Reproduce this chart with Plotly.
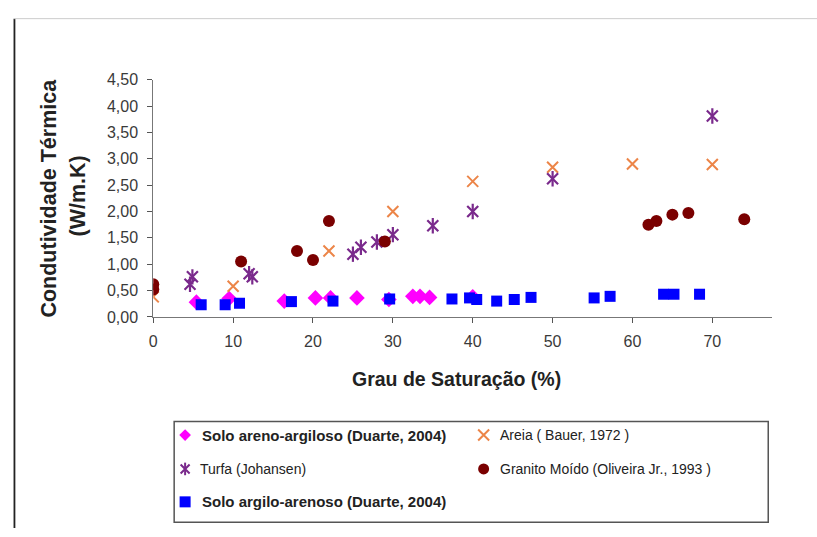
import plotly.graph_objects as go

# Thermal conductivity vs. degree of saturation
W, H = 817, 537

areno_x = [5.4, 9.5, 16.4, 20.3, 22.2, 25.5, 29.5, 32.5, 33.4, 34.6, 40]
areno_y = [0.28, 0.35, 0.30, 0.36, 0.36, 0.36, 0.33, 0.39, 0.39, 0.37, 0.38]

areia_x = [0, 10, 22, 30, 40, 50, 60, 70]
areia_y = [0.38, 0.58, 1.25, 2.00, 2.57, 2.84, 2.90, 2.89]

turfa_x = [4.6, 4.9, 12, 12.4, 25, 26, 28, 30, 35, 40, 50, 70]
turfa_y = [0.62, 0.76, 0.82, 0.76, 1.19, 1.32, 1.42, 1.56, 1.73, 2.00, 2.62, 3.81]

granito_x = [0, 0, 11, 18, 20, 22, 29, 62, 63, 65, 67, 74]
granito_y = [0.62, 0.52, 1.05, 1.25, 1.08, 1.82, 1.43, 1.75, 1.82, 1.94, 1.97, 1.85]

argilo_x = [6, 9, 10.8, 17.3, 22.5, 29.6, 37.4, 39.6, 40.5, 43, 45.2, 47.3, 55.2, 57.2, 63.9, 65.2, 68.4]
argilo_y = [0.23, 0.23, 0.26, 0.29, 0.30, 0.34, 0.34, 0.36, 0.33, 0.30, 0.33, 0.37, 0.36, 0.39, 0.43, 0.43, 0.43]

x_ticks = [0, 10, 20, 30, 40, 50, 60, 70]

series_names = [
    "Solo areno-argiloso (Duarte, 2004)",
    "Areia ( Bauer, 1972 )",
    "Turfa (Johansen)",
    "Granito Moído (Oliveira Jr., 1993 )",
    "Solo argilo-arenoso (Duarte, 2004)",
]

C_ARENO = "#ff00ff"
C_AREIA = "#ec8548"
C_TURFA = "#7a2a8c"
C_GRANITO = "#7a0000"
C_ARGILO = "#0000ff"

FONT = "Liberation Sans, Arial, sans-serif"

# plot area in pixels
PL, PR, PT, PB = 150, 772, 74, 319


def px(x):
    return x / W


def py(y):
    return 1 - y / H


def open_marker(symbol, size, color, width):
    return dict(symbol=symbol, size=size, color=color, line=dict(color=color, width=width))


fig = go.Figure()

fig.add_trace(go.Scatter(x=areno_x, y=areno_y, mode="markers", name=series_names[0],
                         marker=dict(symbol="diamond", size=12, color=C_ARENO)))
fig.add_trace(go.Scatter(x=areia_x, y=areia_y, mode="markers", name=series_names[1],
                         marker=open_marker("x-thin-open", 11, C_AREIA, 2)))
# star marker: an X crossed by a vertical stroke
fig.add_trace(go.Scatter(x=turfa_x, y=turfa_y, mode="markers", name=series_names[2],
                         marker=open_marker("x-thin-open", 11, C_TURFA, 2.2)))
fig.add_trace(go.Scatter(x=turfa_x, y=turfa_y, mode="markers", showlegend=False,
                         marker=open_marker("line-ns-open", 11, C_TURFA, 2.2)))
fig.add_trace(go.Scatter(x=granito_x, y=granito_y, mode="markers", name=series_names[3],
                         marker=dict(symbol="circle", size=12, color=C_GRANITO)))
fig.add_trace(go.Scatter(x=argilo_x, y=argilo_y, mode="markers", name=series_names[4],
                         marker=dict(symbol="square", size=11, color=C_ARGILO)))

# legend keys on a full-figure pixel overlay
key_x = [182, 182, 182, 182, 482, 482]
key_y = [441, 476, 476, 510, 441, 476]
key_sym = ["diamond", "x-thin-open", "line-ns-open", "square", "x-thin-open", "circle"]
key_col = [C_ARENO, C_TURFA, C_TURFA, C_ARGILO, C_AREIA, C_GRANITO]
key_size = [9, 9, 9, 11, 11, 11]
for kx, ky, ks, kc, kz in zip(key_x, key_y, key_sym, key_col, key_size):
    if ks.endswith("-open"):
        mk = open_marker(ks, kz, kc, 2)
    else:
        mk = dict(symbol=ks, size=kz, color=kc)
    fig.add_trace(go.Scatter(x=[kx], y=[ky], mode="markers", marker=mk,
                             xaxis="x2", yaxis="y2", showlegend=False,
                             cliponaxis=False, hoverinfo="skip"))

legend_pos = [(197, 441), (496, 441), (195, 476), (496, 476), (197, 510)]
legend_bold = [True, False, False, False, True]

annotations = []
for (lx, ly), name, bold in zip(legend_pos, series_names, legend_bold):
    annotations.append(dict(
        x=px(lx), y=py(ly), xref="paper", yref="paper", xanchor="left", yanchor="middle",
        text=f"<b>{name}</b>" if bold else name, showarrow=False,
        font=dict(family=FONT, size=15 if bold else 14, color="#222222")))

annotations += [
    dict(x=px(45), y=py(196), xref="paper", yref="paper", textangle=-90,
         xanchor="center", yanchor="middle",
         text="<b>Condutividade Térmica</b>", showarrow=False,
         font=dict(family=FONT, size=21.5, color="#222222")),
    dict(x=px(74), y=py(194), xref="paper", yref="paper", textangle=-90,
         xanchor="center", yanchor="middle",
         text="<b>(W/m.K)</b>", showarrow=False,
         font=dict(family=FONT, size=21.5, color="#222222")),
    dict(x=px(455), y=py(383), xref="paper", yref="paper",
         xanchor="center", yanchor="middle",
         text="<b>Grau de Saturação (%)</b>", showarrow=False,
         font=dict(family=FONT, size=19.5, color="#222222")),
]

shapes = [
    # outer frame
    dict(type="line", xref="paper", yref="paper", x0=px(10.5), x1=px(10.5),
         y0=py(11), y1=0, line=dict(color="#222222", width=1.8)),
    dict(type="line", xref="paper", yref="paper", x0=px(10), x1=1,
         y0=py(11), y1=py(11), line=dict(color="#cccccc", width=1)),
    # legend box
    dict(type="rect", xref="paper", yref="paper", x0=px(171), x1=px(768),
         y0=py(427), y1=py(531), line=dict(color="#555555", width=1.5)),
]

fig.update_layout(
    width=W, height=H,
    margin=dict(l=0, r=0, t=0, b=0),
    paper_bgcolor="white", plot_bgcolor="rgba(0,0,0,0)",
    showlegend=False,
    separators=",.",
    font=dict(family=FONT, color="#444444"),
    xaxis=dict(domain=[px(PL), px(PR)], range=[0, 77.5], tickvals=x_ticks,
               showgrid=False, zeroline=False, showline=True, linecolor="#777777",
               linewidth=1, ticks="outside", ticklen=5, tickcolor="#555555",
               ticklabelstandoff=5,
               tickfont=dict(size=16, color="#3a3a3a"), anchor="y"),
    yaxis=dict(domain=[py(PB), py(PT)], range=[0, 4.5], dtick=0.5, tickformat=".2f",
               showgrid=False, zeroline=False, showline=True, linecolor="#777777",
               linewidth=1, ticks="outside", ticklen=5, tickcolor="#555555",
               ticklabelstandoff=6,
               tickfont=dict(size=16, color="#3a3a3a"), anchor="x"),
    xaxis2=dict(domain=[0, 1], range=[0, W], visible=False, anchor="y2"),
    yaxis2=dict(domain=[0, 1], range=[H, 0], visible=False, anchor="x2"),
    annotations=annotations,
    shapes=shapes,
)

fig.write_html("out.html")
